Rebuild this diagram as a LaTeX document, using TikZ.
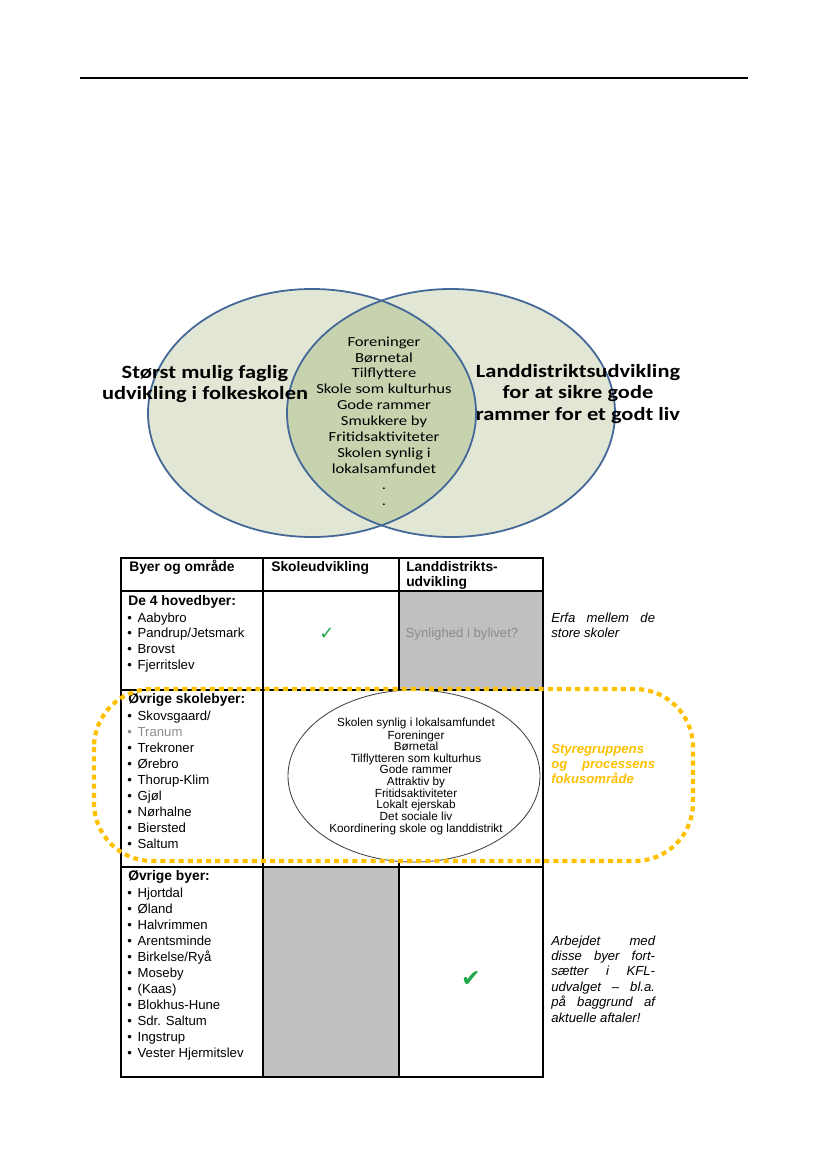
\documentclass[tikz,border=0pt]{standalone}
\usepackage{fontspec}
\setmainfont{Liberation Sans}
\newfontfamily\vennfont[FakeStretch=1.2]{Carlito}
\newfontfamily\symfont{DejaVu Sans}
\usepackage{tikz}
\usetikzlibrary{positioning}
\definecolor{vennfill}{RGB}{225,231,212}
\definecolor{vennmid}{RGB}{199,211,175}
\definecolor{vennline}{RGB}{68,104,152}
\definecolor{focusorange}{RGB}{255,192,0}
\definecolor{checkgreen}{RGB}{32,168,76}
\definecolor{cellgray}{RGB}{192,192,192}
\definecolor{softgray}{RGB}{140,140,140}
\newcommand{\bul}{\makebox[7.5pt][l]{\textbullet}}
\newcommand{\jl}[1]{\hbox to 75pt{#1}}

\begin{document}
\begin{tikzpicture}[x=0.2539mm, y=-0.2539mm,
    vennbig/.style={font=\vennfont\bfseries\fontsize{13.5}{15.5}\selectfont, align=center, inner sep=0pt},
    vennsmall/.style={font=\vennfont\fontsize{10}{11.5}\selectfont, align=center, inner sep=0pt},
    head/.style={font=\bfseries\fontsize{10}{11}\selectfont, inner sep=0pt, anchor=base west},
    town/.style={font=\fontsize{9.5}{11}\selectfont, inner sep=0pt, anchor=base west},
    focustxt/.style={font=\fontsize{8.5}{9}\selectfont, inner sep=0pt, anchor=base},
    note/.style={font=\itshape\fontsize{9.5}{11}\selectfont, inner sep=0pt, anchor=base west},
    grid line/.style={line width=0.9pt}]
  \useasboundingbox (0,0) rectangle (827,1169);

  % page rule
  \draw[line width=0.9pt] (80,78) -- (748,78);

  % Venn diagram
  \fill[vennfill] (312,413) ellipse [x radius=164, y radius=124];
  \fill[vennfill] (451,413) ellipse [x radius=164, y radius=124];
  \begin{scope}
    \clip (312,413) ellipse [x radius=164, y radius=124];
    \fill[vennmid] (451,413) ellipse [x radius=164, y radius=124];
  \end{scope}
  \draw[vennline, line width=1.3pt] (312,413) ellipse [x radius=164, y radius=124];
  \draw[vennline, line width=1.3pt] (451,413) ellipse [x radius=164, y radius=124];

  \node[vennbig] (school) at (205,384) {Størst mulig faglig\\udvikling i folkeskolen};
  \node[vennbig] (rural) at (578,394) {Landdistriktsudvikling\\for at sikre gode\\rammer for et godt liv};
  \node[vennsmall] (overlap) at (384,421) {Foreninger\\Børnetal\\Tilflyttere\\Skole som kulturhus\\Gode rammer\\Smukkere by\\Fritidsaktiviteter\\Skolen synlig i\\lokalsamfundet\\.\\.};

  % table cells
  \fill[cellgray] (399,591) rectangle (543,690);
  \fill[cellgray] (263,867) rectangle (399,1077);
  \draw[grid line] (121,558) rectangle (543,1077);
  \draw[grid line] (263,558) -- (263,1077);
  \draw[grid line] (399,558) -- (399,1077);
  \draw[grid line] (121,591) -- (543,591);
  \draw[grid line] (121,690) -- (543,690);
  \draw[grid line] (121,867) -- (543,867);

  % header row
  \node[head] (hcity) at (129,571) {Byer og område};
  \node[head] (hschool) at (271,571) {Skoleudvikling};
  \node[head] (hrural) at (406,571) {Landdistrikts-};
  \node[head] (hrural2) at (406,586) {udvikling};

  % main towns
  \node[head] (main) at (128,605) {De 4 hovedbyer:};
  \foreach \town [count=\i] in {Aabybro, Pandrup/Jetsmark, Brovst, Fjerritslev}
    \node[town] (main\i) at (127,{622+15.8*(\i-1)}) {\bul\town};
  \node[font=\symfont\fontsize{13}{14}\selectfont, text=checkgreen, inner sep=0pt] (check1) at (327,634) {✓};
  \node[font=\fontsize{9.5}{11}\selectfont, text=softgray, inner sep=0pt, anchor=base] (visible) at (462,637) {Synlighed i bylivet?};

  % school towns
  \node[head] (other) at (128,703) {Øvrige skolebyer:};
  \foreach \town/\tc [count=\i] in {{Skovsgaard/}/black, Tranum/softgray, Trekroner/black, Ørebro/black,
      Thorup-Klim/black, Gjøl/black, Nørhalne/black, Biersted/black, Saltum/black}
    \node[town, text=\tc] (other\i) at (127,{720+16*(\i-1)}) {\bul\town};

  \draw[line width=0.6pt, draw=black!75, fill=white] (414,776) ellipse [x radius=126, y radius=86];
  \foreach \t/\yy [count=\i] in {Skolen synlig i lokalsamfundet/726, Foreninger/739, Børnetal/750.5,
      Tilflytteren som kulturhus/762, Gode rammer/773.5, Attraktiv by/785, Fritidsaktiviteter/797,
      Lokalt ejerskab/808.5, Det sociale liv/820, Koordinering skole og landdistrikt/832}
    \node[focustxt] (focus\i) at (416,\yy) {\t};

  % remaining towns
  \node[head] (rest) at (128,880) {Øvrige byer:};
  \foreach \town [count=\i] in {Hjortdal, Øland, Halvrimmen, Arentsminde, Birkelse/Ryå, Moseby, (Kaas),
      Blokhus-Hune, Sdr. Saltum, Ingstrup, Vester Hjermitslev}
    \node[town] (rest\i) at (127,{897+16*(\i-1)}) {\bul\town};
  \node[font=\symfont\fontsize{17}{18}\selectfont, text=checkgreen, inner sep=0pt] (check2) at (471,979) {✔};

  % notes beside the table
  \foreach \ln [count=\i] in {{\jl{Erfa\hfill mellem\hfill de}}, store skoler}
    \node[note] (erfa\i) at (551,{622+15*(\i-1)}) {\ln};
  \foreach \ln [count=\i] in {Styregruppens, {\jl{og\hfill processens}}, fokusområde}
    \node[note, font=\bfseries\itshape\fontsize{9.5}{11}\selectfont, text=focusorange] (steer\i) at (551,{753+15*(\i-1)}) {\ln};
  \foreach \ln [count=\i] in {{\jl{Arbejdet\hfill med}}, {\jl{disse\hfill byer\hfill fort-}},
      {\jl{sætter\hfill i\hfill KFL-}}, {\jl{udvalget\hfill –\hfill bl.a.}}, {\jl{på\hfill baggrund\hfill af}}, aktuelle aftaler!}
    \node[note] (work\i) at (551,{945+15.4*(\i-1)}) {\ln};

  % focus area
  \draw[focusorange, line width=3pt, dash pattern=on 3.6pt off 3pt, rounded corners=42] (94,689) rectangle (693,861);
\end{tikzpicture}
\end{document}
